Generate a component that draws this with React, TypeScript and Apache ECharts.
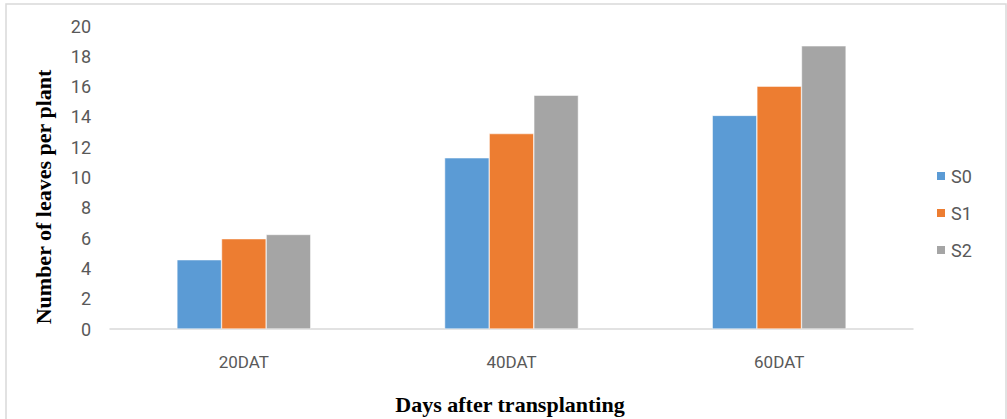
import React, { useEffect, useRef } from "react";
import * as echarts from "echarts";

const categories = ["20DAT", "40DAT", "60DAT"];
const seriesNames = ["S0", "S1", "S2"];
const s0Values = [4.57, 11.3, 14.1];
const s1Values = [5.96, 12.9, 16.03];
const s2Values = [6.24, 15.43, 18.69];
const colors = ["#5B9BD5", "#ED7D31", "#A5A5A5"];
const yTitle = "Number of leaves per plant";
const xTitle = "Days after transplanting";

export default function App() {
  const ref = useRef<HTMLDivElement>(null);
  useEffect(() => {
    if (!ref.current) return;
    const chart = echarts.init(ref.current, null, { renderer: "svg" });
    const values = [s0Values, s1Values, s2Values];
    const tickFont = { fontFamily: "Roboto", fontSize: 18, color: "#595959" };
    chart.setOption({
      animation: false,
      backgroundColor: "#ffffff",
      grid: { left: 110, right: 94, top: 26, bottom: 90 },
      xAxis: {
        type: "category",
        data: categories,
        axisLine: { lineStyle: { color: "#d9d9d9", width: 1.5 } },
        axisTick: { show: false },
        axisLabel: { ...tickFont, fontSize: 17, margin: 24 },
      },
      yAxis: {
        type: "value",
        min: 0,
        max: 20,
        interval: 2,
        splitLine: { show: false },
        axisLine: { show: false },
        axisTick: { show: false },
        axisLabel: { ...tickFont, margin: 19 },
      },
      legend: {
        orient: "vertical",
        left: 935,
        top: 167,
        padding: 0,
        itemWidth: 10,
        itemHeight: 10,
        itemGap: 19,
        icon: "rect",
        textStyle: { ...tickFont, padding: [0, 0, 0, 0] },
        data: seriesNames,
      },
      series: seriesNames.map((name, i) => ({
        name,
        type: "bar",
        data: values[i],
        barGap: "0%",
        barCategoryGap: "50%",
        itemStyle: { color: colors[i], borderColor: "#ffffff", borderWidth: 0.5 },
      })),
      graphic: [
        {
          type: "rect",
          shape: { x: 6, y: 4, width: 1000, height: 430 },
          style: { fill: "none", stroke: "#d9d9d9", lineWidth: 1.5 },
          silent: true,
        },
        {
          type: "text",
          x: 43,
          y: 197,
          rotation: Math.PI / 2,
          style: {
            text: yTitle,
            fontFamily: "Liberation Serif",
            fontWeight: "bold",
            fontSize: 22,
            fill: "#000000",
            textAlign: "center",
            textVerticalAlign: "middle",
          },
        },
        {
          type: "text",
          x: 510,
          y: 404,
          style: {
            text: xTitle,
            fontFamily: "Liberation Serif",
            fontWeight: "bold",
            fontSize: 22,
            fill: "#000000",
            textAlign: "center",
            textVerticalAlign: "middle",
          },
        },
      ],
    });
    return () => chart.dispose();
  }, []);
  return (
    <div
      ref={ref}
      style={{ position: "fixed", left: 0, top: 0, width: 1007, height: 419 }}
    />
  );
}
